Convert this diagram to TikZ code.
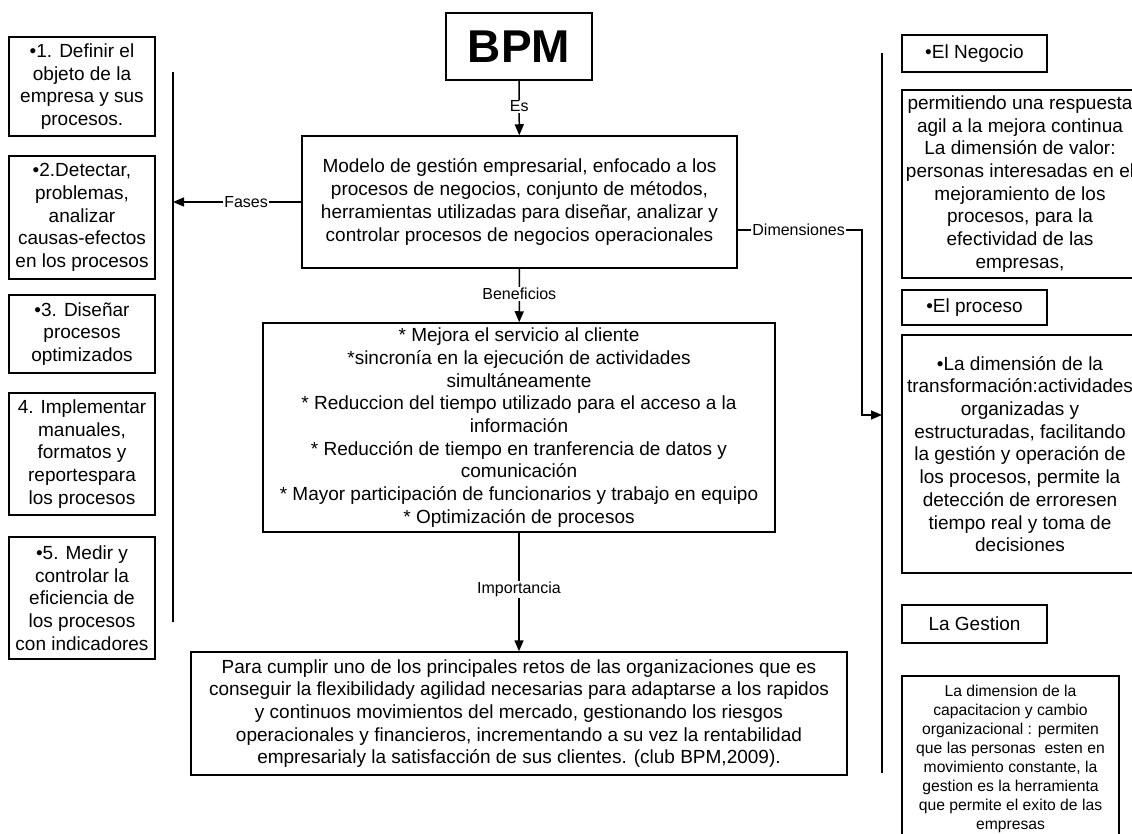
\documentclass[tikz,border=0pt]{standalone}
\usepackage{fontspec}
\setmainfont{Liberation Sans}
\usetikzlibrary{arrows.meta, positioning}

\begin{document}
\begin{tikzpicture}[x=1pt, y=-1pt,
  box/.style={draw, line width=1.5pt, align=center, inner sep=0pt, font=\fontsize{19}{22.7}\selectfont},
  fase/.style={box, minimum width=146pt},
  dimtag/.style={box, minimum width=145pt},
  dimtext/.style={box, minimum width=236pt},
  lbl/.style={fill=white, inner sep=1pt, font=\fontsize{16}{18}\selectfont},
  link/.style={line width=1.5pt, -{Triangle[length=11pt, width=9pt]}},
  bar/.style={line width=1.5pt},
  >=Triangle
]
  \useasboundingbox (0,0) rectangle (1132,834);

  % Centre column: BPM, definition, benefits, importance
  \node[box, minimum width=146pt, minimum height=67pt, font=\fontsize{46}{50}\selectfont\bfseries] at (519,46.5) (bpm) {BPM};
  \node[box, minimum width=435pt, minimum height=132pt] at (519.5,202) (defn) {Modelo de gestión empresarial, enfocado a los\\procesos de negocios, conjunto de métodos,\\herramientas utilizadas para diseñar, analizar y\\controlar procesos de negocios operacionales};
  \node[box, minimum width=512pt, minimum height=209pt] at (519,427.5) (benef) {* Mejora el servicio al cliente\\*sincronía en la ejecución de actividades\\simultáneamente\\* Reduccion del tiempo utilizado para el acceso a la\\información\\* Reducción de tiempo en tranferencia de datos y\\comunicación\\* Mayor participación de funcionarios y trabajo en equipo\\* Optimización de procesos};
  \node[box, minimum width=656pt, minimum height=123pt] at (519,713.5) (impor) {Para cumplir uno de los principales retos de las organizaciones que es\\conseguir la flexibilidady agilidad necesarias para adaptarse a los rapidos\\y continuos movimientos del mercado, gestionando los riesgos\\operacionales y financieros, incrementando a su vez la rentabilidad\\empresarialy la satisfacción de sus clientes. (club BPM,2009).};

  % Left column: phases
  \node[fase, minimum height=99pt]  at (82,86.5)  (fase1) {•1. Definir el\\objeto de la\\empresa y sus\\procesos.};
  \node[fase, minimum height=123pt] at (82,217.5) (fase2) {•2.Detectar,\\problemas,\\analizar\\causas-efectos\\en los procesos};
  \node[fase, minimum height=78pt]  at (82,334)   (fase3) {•3. Diseñar\\procesos\\optimizados};
  \node[fase, minimum height=122pt] at (82,454)   (fase4) {4. Implementar\\manuales,\\formatos y\\reportespara\\los procesos};
  \node[fase, minimum height=122pt] at (82,598)   (fase5) {•5. Medir y\\controlar la\\eficiencia de\\los procesos\\con indicadores};

  % Right column: dimensions
  \node[dimtag, minimum height=37pt]  at (974.5,53.5) (negocio) {•El Negocio};
  \node[dimtext, minimum height=188pt] at (1020,184)  (valor) {permitiendo una respuesta\\agil a la mejora continua\\La dimensión de valor:\\personas interesadas en el\\mejoramiento de los\\procesos, para la\\efectividad de las\\empresas,};
  \node[dimtag, minimum height=35pt]  at (974.5,307.5) (proceso) {•El proceso};
  \node[dimtext, minimum height=238pt] at (1020,454)  (transf) {•La dimensión de la\\transformación:actividades\\organizadas y\\estructuradas, facilitando\\la gestión y operación de\\los procesos, permite la\\detección de erroresen\\tiempo real y toma de\\decisiones};
  \node[dimtag, minimum height=38pt]  at (974.5,624) (gestion) {La Gestion};
  \node[box, minimum width=217pt, minimum height=166pt, font=\fontsize{15.7}{18.9}\selectfont] at (1010.5,759) (capac) {La dimension de la\\capacitacion y cambio\\organizacional : permiten\\que las personas\ \ esten en\\movimiento constante, la\\gestion es la herramienta\\que permite el exito de las\\empresas};

  % Brackets
  \coordinate (ltop) at (173,72);
  \coordinate (lbot) at (173,622);
  \coordinate (rtop) at (882,53);
  \coordinate (rbot) at (882,773);
  \coordinate (dimy) at (862,230);
  \coordinate (rtip) at (882,415);
  \draw[bar] (ltop) -- (lbot);
  \draw[bar] (rtop) -- (rbot);

  \draw[link] (bpm) -- node[lbl, pos=0.47] {Es} (defn);
  \draw[link] (defn.west) -- node[lbl, pos=0.43] {Fases} (defn.west -| ltop);
  \draw[link] (defn.east |- dimy) -- node[lbl, pos=0.49] {Dimensiones} (dimy) |- (rtip);
  \draw[link] (defn) -- node[lbl, pos=0.47] {Beneficios} (benef);
  \draw[link] (benef) -- node[lbl, pos=0.48] {Importancia} (impor);
\end{tikzpicture}
\end{document}
